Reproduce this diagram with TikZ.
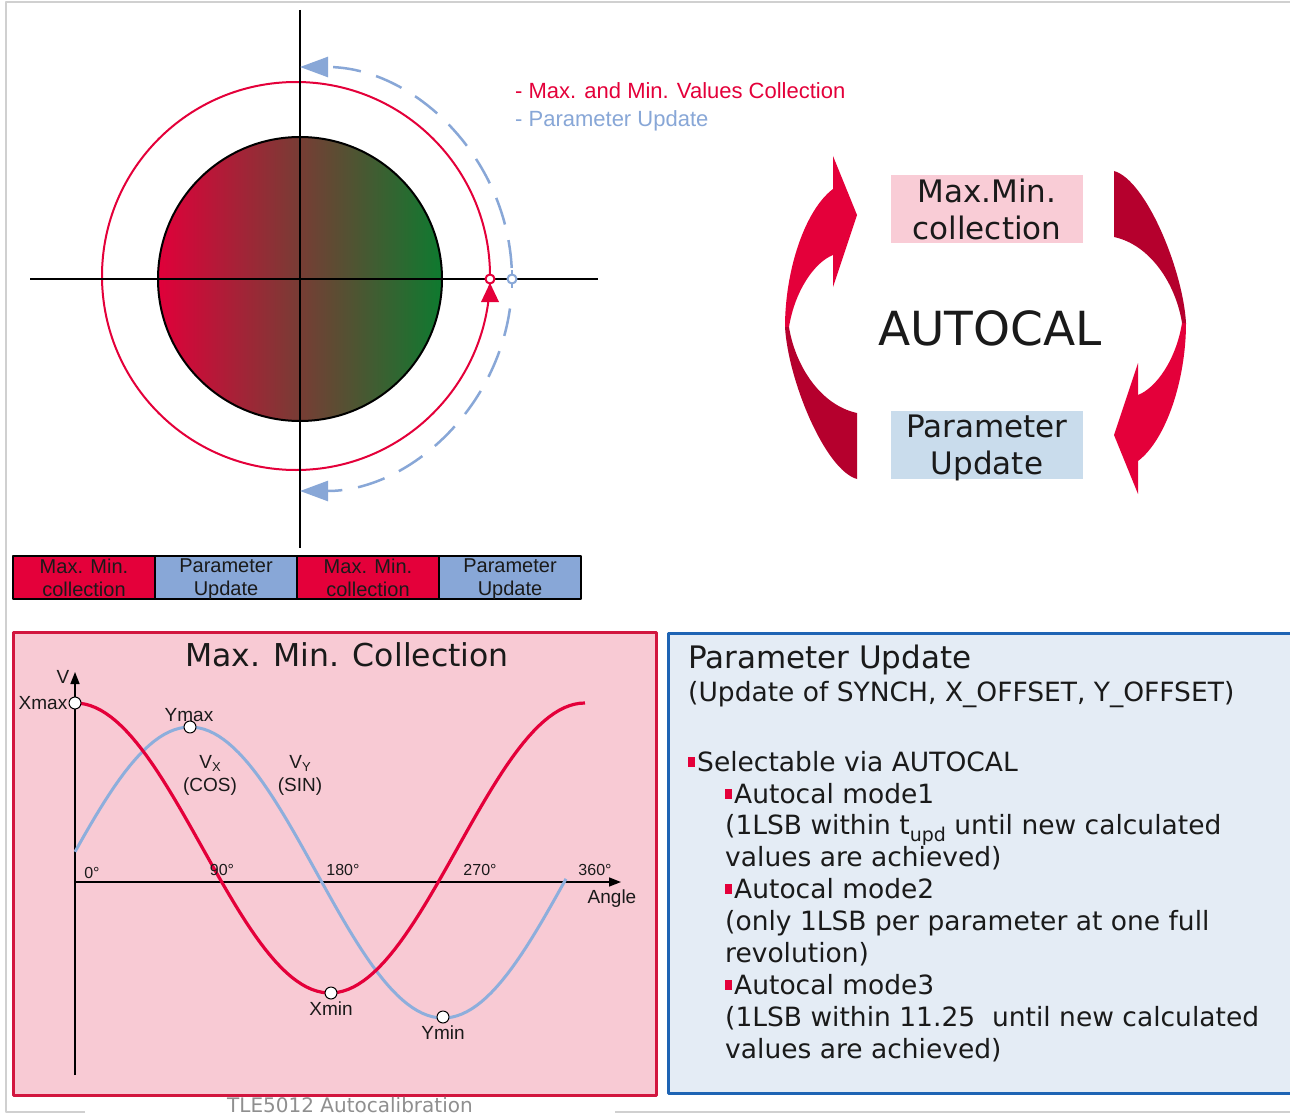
\documentclass[tikz,border=0pt]{standalone}
\usepackage{fontspec}
\setmainfont{Liberation Sans}
\newfontfamily\verdana{DejaVu Sans}
\usetikzlibrary{arrows, arrows.meta}
\usetikzlibrary{calc}
\usetikzlibrary{positioning}

\definecolor{mmcred}{HTML}{E4003A}
\definecolor{darkred}{HTML}{B5002D}
\definecolor{pblue}{HTML}{88A7D7}
\definecolor{curveblue}{HTML}{8DAEDC}
\definecolor{discred}{HTML}{E0003A}
\definecolor{discgreen}{HTML}{0E7A2F}
\definecolor{pinkbox}{HTML}{F9CCD6}
\definecolor{bluebox}{HTML}{C9DCEC}
\definecolor{pinkpanel}{HTML}{F8CAD4}
\definecolor{bluepanel}{HTML}{E4ECF5}
\definecolor{panelblue}{HTML}{1E64B4}
\definecolor{panelred}{HTML}{D2163F}
\definecolor{framegray}{HTML}{D0D0D0}
\definecolor{captiongray}{HTML}{8F8F8F}
\definecolor{textgray}{HTML}{1A1A1A}

\newcommand{\fsz}[2]{\fontsize{#1pt}{#2pt}\selectfont}
\newcommand{\sqb}{{\color{mmcred}\rule[4pt]{7pt}{10pt}}\hspace{2pt}}
\newcommand{\ringarrow}{%
  \fill[mmcred] (785,327) .. controls (785,270) and (805,210) .. (833,189) -- (833,156) -- (857,215) -- (833,287) -- (833,255) .. controls (815,262) and (795,290) .. (789,327) -- cycle;
  \fill[darkred] (785,327) .. controls (788,380) and (825,470) .. (857,479) -- (857,413) .. controls (820,405) and (795,365) .. (789,327) -- cycle;
}

\tikzset{
  barcell/.style={draw=black, line width=1.5pt, outer sep=0pt, minimum width=142pt, minimum height=43pt, inner sep=0pt, align=center, text depth=0pt, font=\fsz{20}{23}, text=textgray},
  cyclebox/.style={minimum width=192pt, minimum height=68pt, inner sep=0pt, align=center, text depth=0pt, font=\verdana\fsz{31}{37}, text=textgray},
  ptmark/.style={circle, draw=black, fill=white, line width=1pt, inner sep=0pt, minimum size=12pt},
  glabel/.style={inner sep=0pt, font=\fsz{19}{23}, text=textgray},
  ticklbl/.style={inner sep=0pt, font=\fsz{16}{18}, text=textgray},
  ptext/.style={anchor=base west, inner sep=0pt, font=\verdana\fsz{26.5}{32}, text=textgray},
  pupd/.style={pblue, line width=2.5pt, dash pattern=on 28pt off 16pt, -{Triangle[length=28pt, width=20pt]}}
}

\begin{document}
\begin{tikzpicture}[x=1pt, y=-1pt, line join=round]
  \useasboundingbox (0,0) rectangle (1290,1118);
  \fill[white] (0,0) rectangle (1290,1118);

  \draw[framegray, line width=1.5pt] (85,1112) -- (6,1112) -- (6,2) -- (1292,2);
  \draw[framegray, line width=1.5pt] (615,1112) -- (1292,1112);

  % rotor with the two rings
  \coordinate (ctr) at (300,279);
  \coordinate (rctr) at (296,276);
  \draw[left color=discred, right color=discgreen, draw=black, line width=2pt] (ctr) circle[radius=142];
  \draw[mmcred, line width=2pt] (rctr) circle[radius=194];
  \draw[black, line width=2pt] (30,279) -- (598,279);
  \draw[black, line width=2pt] (300,10) -- (300,548);

  \draw[pupd] ($(ctr)+(-3:212)$) arc[start angle=-3, end angle=-90, radius=212];
  \draw[pupd] ($(ctr)+(8:212)$) arc[start angle=8, end angle=90, radius=212];

  \coordinate (bm) at (512,279);
  \draw[pblue, line width=2pt] ($(bm)+(0,-9)$) -- ($(bm)+(0,9)$);
  \node[circle, draw=pblue, fill=white, line width=2pt, inner sep=0pt, minimum size=9pt] (bmark) at (bm) {};
  \node[circle, draw=mmcred, fill=white, line width=2pt, inner sep=0pt, minimum size=9pt] (rmark) at (490,279) {};
  \fill[mmcred] ($(rmark)+(0,4)$) -- ($(rmark)+(-9,23)$) -- ($(rmark)+(9,23)$) -- cycle;

  \node[anchor=base west, inner sep=0pt, font=\fsz{22}{26}, text=mmcred] (leg1) at (515,99) {- Max. and Min. Values Collection};
  \node[anchor=base west, inner sep=0pt, font=\fsz{22}{26}, text=pblue] (leg2) at (515,127) {- Parameter Update};

  \node[barcell, fill=mmcred, anchor=north west] (bar1) at (13,556) {Max. Min.\\collection};
  \node[barcell, fill=pblue, right=0pt of bar1] (bar2) {Parameter\\Update};
  \node[barcell, fill=mmcred, right=0pt of bar2] (bar3) {Max. Min.\\collection};
  \node[barcell, fill=pblue, right=0pt of bar3] (bar4) {Parameter\\Update};

  % AUTOCAL cycle
  \ringarrow
  \begin{scope}[rotate around={180:(985.5,325)}]
    \ringarrow
  \end{scope}
  \node[cyclebox, fill=pinkbox] (mmcbox) at (987,209) {Max.Min.\\collection};
  \node[cyclebox, fill=bluebox] (pubox) at (987,444.5) {Parameter\\Update};
  \node[inner sep=0pt, font=\verdana\fsz{47}{50}, text=textgray] (autocal) at (990,328) {AUTOCAL};

  % max/min collection panel
  \node[draw=panelred, fill=pinkpanel, line width=2.5pt, anchor=north west, minimum width=643pt, minimum height=463pt, inner sep=0pt] (mmcpanel) at (12,631) {};
  \node[anchor=base, inner sep=0pt, font=\verdana\fsz{31.5}{34}, text=textgray] (mmctitle) at (347,666) {Max. Min. Collection};

  \coordinate (gor) at (75,882);
  \draw[black, line width=1.5pt, -{Triangle[length=12pt, width=9pt]}] (75,1075) -- (75,672);
  \draw[black, line width=1.5pt, -{Triangle[length=12pt, width=9pt]}] (gor) -- (621,882);
  \draw[curveblue, line width=3pt] plot[domain=75:566, samples=100] (\x, {872.5-145.5*sin((\x-63.5)/506*360)});
  \draw[mmcred, line width=3.2pt] plot[domain=0:360, samples=100] ({75+\x/360*510}, {848-145*cos(\x)});

  \node[glabel] (vlbl) at (63,677) {V};
  \node[glabel] (anglbl) at (612,899) {Angle};
  \node[ticklbl] (t0) at (92,873) {0°};
  \node[ticklbl] (t90) at (222,870) {90°};
  \node[ticklbl] (t180) at (343,870) {180°};
  \node[ticklbl] (t270) at (480,870) {270°};
  \node[ticklbl] (t360) at (595,870) {360°};
  \node[glabel, align=center] (vx) at (210,775) {V\raisebox{-3pt}{\fsz{13}{13}X}\\(COS)};
  \node[glabel, align=center] (vy) at (300,775) {V\raisebox{-3pt}{\fsz{13}{13}Y}\\(SIN)};

  \node[glabel] (ymaxlbl) at (189,715) {Ymax};
  \node[ptmark, label={[glabel, label distance=1pt]left:Xmax}] (xmax) at (75,703) {};
  \node[ptmark] (ymax) at (190,727) {};
  \node[ptmark, label={[glabel, label distance=2pt]below:Xmin}] (xmin) at (331,993) {};
  \node[ptmark, label={[glabel, label distance=2pt]below:Ymin}] (ymin) at (443,1017) {};

  % parameter update panel
  \node[draw=panelblue, fill=bluepanel, line width=3pt, anchor=north west, minimum width=640pt, minimum height=460pt, inner sep=0pt] (pupanel) at (667,632) {};
  \node[anchor=base west, inner sep=0pt, font=\verdana\fsz{31}{34}, text=textgray] (putitle) at (688,668) {Parameter Update};
  \node[ptext] (pusub) at (688,701) {(Update of SYNCH, X\_OFFSET, Y\_OFFSET)};
  \node[ptext] (sel) at (688,771) {\sqb Selectable via AUTOCAL};
  \node[ptext] (m1) at (725,803) {\sqb Autocal mode1};
  \node[ptext] (m1a) at (725,834) {(1LSB within t\raisebox{-7pt}{\fsz{19}{19}upd} until new calculated};
  \node[ptext] (m1b) at (725,866) {values are achieved)};
  \node[ptext] (m2) at (725,898) {\sqb Autocal mode2};
  \node[ptext] (m2a) at (725,930) {(only 1LSB per parameter at one full};
  \node[ptext] (m2b) at (725,962) {revolution)};
  \node[ptext] (m3) at (725,994) {\sqb Autocal mode3};
  \node[ptext] (m3a) at (725,1026) {(1LSB within 11.25\ \ until new calculated};
  \node[ptext] (m3b) at (725,1058) {values are achieved)};

  \node[anchor=base, inner sep=0pt, font=\verdana\fsz{20}{24}, text=captiongray] (caption) at (350,1112) {TLE5012 Autocalibration};
\end{tikzpicture}
\end{document}
